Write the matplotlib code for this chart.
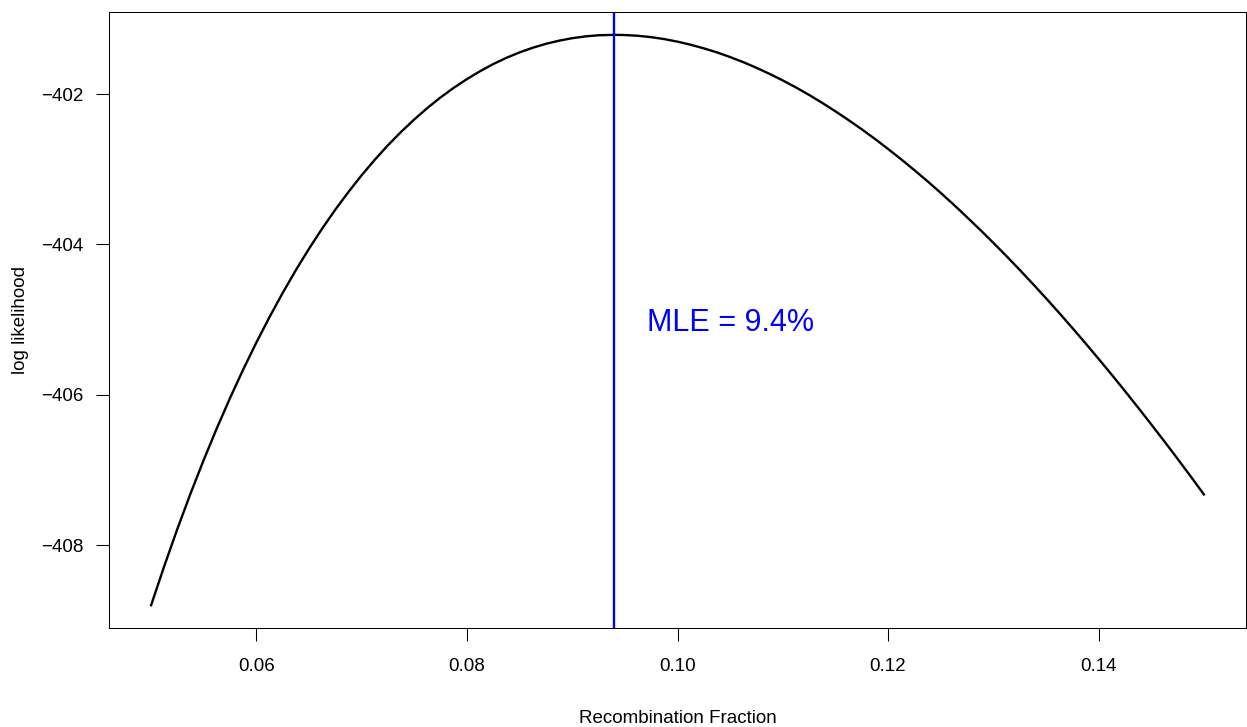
import matplotlib
matplotlib.use("Agg")
import matplotlib.pyplot as plt

plt.rcParams['font.family'] = ['Liberation Sans', 'DejaVu Sans']

# recombination fraction and log likelihood
rec_frac = [0.05, 0.05125, 0.0525, 0.05375, 0.055, 0.05625, 0.0575, 0.05875,
            0.06, 0.06125, 0.0625, 0.06375, 0.065, 0.06625, 0.0675, 0.06875,
            0.07, 0.07125, 0.0725, 0.07375, 0.075, 0.07625, 0.0775, 0.07875,
            0.08, 0.08125, 0.0825, 0.08375, 0.085, 0.08625, 0.0875, 0.08875,
            0.09, 0.09125, 0.0925, 0.094, 0.095, 0.09625, 0.0975, 0.09875,
            0.10, 0.10125, 0.1025, 0.10375, 0.105, 0.10625, 0.1075, 0.10875,
            0.11, 0.11125, 0.1125, 0.11375, 0.115, 0.11625, 0.1175, 0.11875,
            0.12, 0.12125, 0.1225, 0.12375, 0.125, 0.12625, 0.1275, 0.12875,
            0.13, 0.13125, 0.1325, 0.13375, 0.135, 0.13625, 0.1375, 0.13875,
            0.14, 0.14125, 0.1425, 0.14375, 0.145, 0.14625, 0.1475, 0.14875,
            0.15]
log_lik = [-408.800, -408.279, -407.783, -407.312, -406.866, -406.443,
           -406.042, -405.663, -405.304, -404.965, -404.644, -404.341,
           -404.056, -403.788, -403.536, -403.300, -403.078, -402.872,
           -402.679, -402.501, -402.336, -402.183, -402.042, -401.915,
           -401.799, -401.694, -401.599, -401.516, -401.444, -401.382,
           -401.330, -401.288, -401.255, -401.231, -401.216, -401.210,
           -401.213, -401.223, -401.241, -401.267, -401.301, -401.342,
           -401.390, -401.444, -401.506, -401.574, -401.649, -401.730,
           -401.817, -401.910, -402.010, -402.116, -402.228, -402.345,
           -402.467, -402.595, -402.729, -402.867, -403.011, -403.159,
           -403.313, -403.472, -403.637, -403.805, -403.978, -404.155,
           -404.337, -404.524, -404.715, -404.910, -405.110, -405.314,
           -405.522, -405.734, -405.950, -406.170, -406.394, -406.621,
           -406.852, -407.087, -407.326]

mle = 0.094
mle_label = "MLE = 9.4%"

x_ticks = [0.06, 0.08, 0.10, 0.12, 0.14]
x_tick_labels = ["0.06", "0.08", "0.10", "0.12", "0.14"]
y_ticks = [-402, -404, -406, -408]

W, H = 1247, 727
fig = plt.figure(figsize=(W / 100, H / 100), dpi=100)
ax = fig.add_axes([109 / W, 1 - 628 / H, (1246 - 109) / W, (628 - 12) / H])

ax.plot(rec_frac, log_lik, color='black', lw=1.7)
ax.axvline(mle, color='blue', lw=1.7)
ax.text(0.105, -405.15, mle_label, color='blue', fontsize=22,
        ha='center', va='baseline')

# R style 4% padding around the data
xr = max(rec_frac) - min(rec_frac)
yr = max(log_lik) - min(log_lik)
ax.set_xlim(min(rec_frac) - 0.04 * xr, max(rec_frac) + 0.04 * xr)
ax.set_ylim(min(log_lik) - 0.04 * yr, max(log_lik) + 0.04 * yr)

ax.set_xticks(x_ticks)
ax.set_xticklabels(x_tick_labels)
ax.set_yticks(y_ticks)
ax.set_yticklabels([f"\u2212{abs(v)}" for v in y_ticks])
ax.tick_params(axis='both', direction='out', length=9.4, width=0.75,
               labelsize=13.5, colors='black')
ax.tick_params(axis='x', pad=12)
ax.tick_params(axis='y', pad=9)
for s in ax.spines.values():
    s.set_linewidth(0.75)
    s.set_color('black')

ax.set_xlabel("Recombination Fraction", fontsize=13.5)
ax.xaxis.label.set_va('baseline')
ax.xaxis.set_label_coords(0.5, -(722.7 - 628) / 616)
ax.set_ylabel("log likelihood", fontsize=13.5)
ax.yaxis.label.set_va('center')
ax.yaxis.set_label_coords(-(109 - 21) / 1137, 0.5)

fig.savefig("out.png", dpi=100)
